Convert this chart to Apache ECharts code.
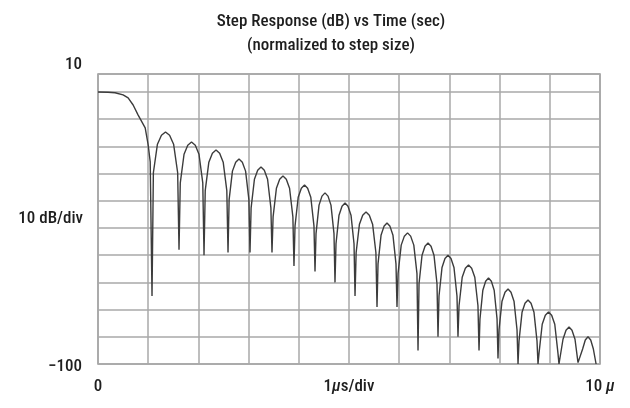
<!DOCTYPE html>
<html>
<head>
<meta charset="utf-8">
<script src="https://cdn.jsdelivr.net/npm/echarts@6/dist/echarts.min.js"></script>
<style>
html,body{margin:0;padding:0;background:#fff;}
#chart{width:630px;height:408px;}
</style>
</head>
<body>
<div id="chart"></div>
<script>
// Title lines
const titleLines = ['Step Response (dB) vs Time (sec)', '(normalized to step size)'];
// Axis texts
const yTickLabels = ['\u2212100', '10'];
const yAxisName = '10 dB/div';
const xTickLabels = ['0', '10 '];
const xAxisName = '1{mu|\u00b5}s/div';

// Step response trace: time (µs) and level (dB)
const timeUs = [
  0, 0.2, 0.34, 0.5, 0.6, 0.7, 0.8, 0.94, 1.0, 1.04, 1.076,
  1.103, 1.184, 1.264, 1.345, 1.426, 1.506, 1.587, 1.614,
  1.639, 1.714, 1.788, 1.863, 1.938, 2.012, 2.087, 2.112,
  2.136, 2.208, 2.279, 2.351, 2.423, 2.494, 2.566, 2.590,
  2.612, 2.678, 2.743, 2.809, 2.875, 2.940, 3.006, 3.028,
  3.050, 3.116, 3.181, 3.247, 3.313, 3.378, 3.444, 3.466,
  3.488, 3.554, 3.619, 3.685, 3.751, 3.816, 3.882, 3.904,
  3.925, 3.988, 4.051, 4.114, 4.176, 4.239, 4.302, 4.323,
  4.343, 4.403, 4.462, 4.522, 4.582, 4.641, 4.701, 4.721,
  4.741, 4.801, 4.861, 4.921, 4.980, 5.040, 5.100, 5.120,
  5.142, 5.208, 5.273, 5.339, 5.405, 5.470, 5.536, 5.558,
  5.578, 5.638, 5.697, 5.757, 5.817, 5.876, 5.936, 5.956,
  5.977, 6.040, 6.103, 6.166, 6.228, 6.291, 6.354, 6.375,
  6.395, 6.455, 6.514, 6.574, 6.634, 6.693, 6.753, 6.773,
  6.793, 6.853, 6.912, 6.972, 7.032, 7.091, 7.151, 7.171,
  7.192, 7.255, 7.318, 7.381, 7.443, 7.506, 7.569, 7.590,
  7.609, 7.666, 7.722, 7.779, 7.836, 7.892, 7.949, 7.968,
  7.988, 8.048, 8.108, 8.168, 8.227, 8.287, 8.347, 8.367,
  8.387, 8.447, 8.506, 8.566, 8.626, 8.685, 8.745, 8.765,
  8.786, 8.849, 8.911, 8.974, 9.037, 9.099, 9.162, 9.183,
  9.203, 9.263, 9.323, 9.383, 9.442, 9.502, 9.562, 9.582,
  9.600, 9.654, 9.707, 9.761, 9.815, 9.868, 9.922
];
const levelDb = [
  0, -0.1, -0.3, -1.1, -2.2, -4.8, -8.5, -13.2, -19.5, -25.7, -75,
  -29.7, -19.2, -15.9, -14.7, -15.9, -19.2, -29.7, -58,
  -33.4, -22.9, -19.6, -18.4, -19.6, -22.9, -33.4, -60,
  -36.3, -25.8, -22.5, -21.3, -22.5, -25.8, -36.3, -59,
  -39.6, -29.1, -25.8, -24.6, -25.8, -29.1, -39.6, -59,
  -42.6, -32.1, -28.8, -27.6, -28.8, -32.1, -42.6, -59,
  -45.9, -35.4, -32.1, -30.9, -32.1, -35.4, -45.9, -64,
  -49.2, -38.7, -35.4, -34.2, -35.4, -38.7, -49.2, -66,
  -52.1, -41.6, -38.3, -37.1, -38.3, -41.6, -52.1, -70,
  -55.8, -45.3, -42.0, -40.8, -42.0, -45.3, -55.8, -75,
  -59.1, -48.6, -45.3, -44.1, -45.3, -48.6, -59.1, -79,
  -63.2, -52.7, -49.4, -48.2, -49.4, -52.7, -63.2, -79,
  -66.8, -56.3, -53.0, -51.8, -53.0, -56.3, -66.8, -95,
  -70.5, -60.0, -56.7, -55.5, -56.7, -60.0, -70.5, -90,
  -75.0, -64.5, -61.2, -60.0, -61.2, -64.5, -75.0, -90,
  -78.6, -68.1, -64.8, -63.6, -64.8, -68.1, -78.6, -95,
  -83.4, -72.9, -69.6, -68.4, -69.6, -72.9, -83.4, -98,
  -87.4, -76.9, -73.6, -72.4, -73.6, -76.9, -87.4, -100,
  -91.5, -81.0, -77.7, -76.5, -77.7, -81.0, -91.5, -100,
  -95.9, -85.4, -82.1, -80.9, -82.1, -85.4, -95.9, -100,
  -99.5, -90.9, -87.6, -86.4, -87.6, -90.9, -99.5, -100,
  -99.5, -94.5, -91.2, -90.0, -91.2, -94.5, -100
];

const FONT = '"Roboto Condensed", "Liberation Sans Narrow", sans-serif';
const FS = 17;
const FW = 500;
const TXT = '#1e1e1e';
const Y_MIN = -100, Y_MAX = 6.6;
const baseText = {fontFamily: FONT, fontSize: FS, fontWeight: FW, color: TXT};
const muStyle = Object.assign({}, baseText, {fontStyle: 'italic'});

const chart = echarts.init(document.getElementById('chart'), null, {renderer: 'canvas'});
chart.setOption({
  animation: false,
  backgroundColor: '#fff',
  title: {
    text: titleLines.join('\n'),
    left: 326, top: 5, textAlign: 'center',
    textStyle: Object.assign({}, baseText, {lineHeight: 24})
  },
  grid: {left: 98, right: 30, top: 74, bottom: 44, outerBoundsMode: 'none', containLabel: false,
    show: true, borderColor: '#9a9a9a', borderWidth: 1.5, backgroundColor: 'transparent'},
  xAxis: {
    type: 'value', min: 0, max: 10, interval: 1,
    axisLine: {show: false}, axisTick: {show: false},
    splitLine: {show: true, lineStyle: {color: '#a8a8a8', width: 1.5}},
    axisLabel: Object.assign({}, baseText, {
      margin: 23, verticalAlign: 'middle',
      formatter: v => v === 0 ? xTickLabels[0] : (v === 10 ? xTickLabels[1] + '{mu|\u00b5}' : ''),
      rich: {mu: muStyle}
    }),
    name: xAxisName, nameLocation: 'middle', nameGap: 23, nameMoveOverlap: false,
    nameTextStyle: Object.assign({}, baseText, {verticalAlign: 'middle', rich: {mu: muStyle}})
  },
  yAxis: {
    type: 'value', min: Y_MIN, max: Y_MAX, interval: 10,
    axisLine: {show: false}, axisTick: {show: false},
    splitLine: {show: true, lineStyle: {color: '#a8a8a8', width: 1.5}},
    axisLabel: Object.assign({}, baseText, {
      margin: 16,
      formatter: v => v === Y_MIN ? '{dn|' + yTickLabels[0] + '}' : (v > 6 ? '{up|' + yTickLabels[1] + '}' : ''),
      rich: {
        up: Object.assign({}, baseText, {padding: [0, 0, 18, 0]}),
        dn: Object.assign({}, baseText, {padding: [6, 0, 0, 0]})
      }
    }),
    name: yAxisName, nameLocation: 'middle', nameRotate: 0, nameGap: 15, nameMoveOverlap: false,
    nameTextStyle: Object.assign({}, baseText, {align: 'right', verticalAlign: 'middle'})
  },
  series: [{
    type: 'line',
    data: timeUs.map((t, i) => [t, levelDb[i]]),
    showSymbol: false, symbol: 'none',
    lineStyle: {color: '#3c3c3c', width: 1.4},
    silent: true
  }]
});
</script>
</body>
</html>
